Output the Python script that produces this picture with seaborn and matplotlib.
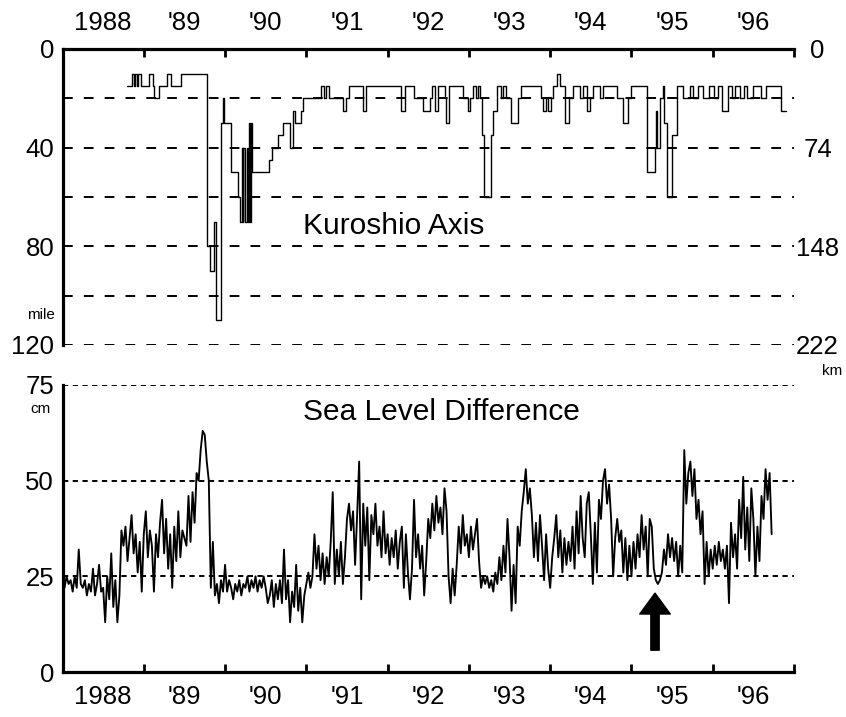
import numpy as np
import pandas as pd
import matplotlib
matplotlib.use("Agg")
import matplotlib.pyplot as plt
import seaborn as sns

# ---- Kuroshio axis offshore distance (nautical miles); value holds from each time on
kuroshio_year = [
    1988.79, 1988.85, 1988.88, 1988.89, 1988.92, 1988.93, 1988.96, 1989.06, 1989.11, 1989.13,
    1989.19, 1989.29, 1989.33, 1989.46, 1989.78, 1989.82, 1989.86, 1989.89, 1989.95, 1989.98,
    1989.99, 1990.07, 1990.16, 1990.19, 1990.205, 1990.215, 1990.225, 1990.24, 1990.27, 1990.28,
    1990.295, 1990.305, 1990.315, 1990.33, 1990.54, 1990.58, 1990.65, 1990.71, 1990.80, 1990.84,
    1990.86, 1990.93, 1990.96, 1991.18, 1991.22, 1991.24, 1991.28, 1991.45, 1991.49, 1991.53,
    1991.70, 1991.74, 1992.17, 1992.21, 1992.33, 1992.44, 1992.52, 1992.54, 1992.58, 1992.62,
    1992.70, 1992.72, 1992.76, 1992.93, 1992.99, 1993.01, 1993.05, 1993.09, 1993.11, 1993.14,
    1993.16, 1993.18, 1993.27, 1993.30, 1993.34, 1993.40, 1993.42, 1993.46, 1993.52, 1993.60,
    1993.64, 1993.89, 1993.91, 1993.95, 1993.97, 1994.01, 1994.04, 1994.09, 1994.12, 1994.18,
    1994.23, 1994.28, 1994.37, 1994.41, 1994.45, 1994.49, 1994.53, 1994.61, 1994.65, 1994.82,
    1994.90, 1994.96, 1995.00, 1995.19, 1995.29, 1995.30, 1995.315, 1995.35, 1995.39, 1995.40,
    1995.44, 1995.50, 1995.56, 1995.64, 1995.72, 1995.76, 1995.82, 1995.88, 1995.95, 1996.01,
    1996.07, 1996.11, 1996.19, 1996.24, 1996.28, 1996.34, 1996.38, 1996.42, 1996.50, 1996.59,
    1996.65, 1996.84, 1996.90,
]
kuroshio_mile = [
    15, 10, 15, 10, 15, 10, 15, 10, 15, 20,
    15, 10, 15, 10, 80, 90, 70, 110, 30, 20,
    30, 50, 60, 70, 40, 70, 40, 70, 40, 70,
    30, 70, 30, 50, 45, 40, 35, 30, 40, 25,
    30, 25, 20, 15, 20, 15, 20, 25, 20, 15,
    25, 15, 25, 15, 20, 25, 20, 15, 25, 15,
    20, 30, 15, 20, 25, 20, 15, 20, 15, 20,
    35, 60, 35, 25, 15, 20, 15, 20, 30, 20,
    15, 20, 25, 20, 25, 20, 15, 10, 15, 30,
    20, 15, 20, 15, 25, 20, 15, 20, 15, 20,
    30, 20, 15, 50, 40, 25, 40, 20, 15, 30,
    60, 35, 15, 20, 15, 20, 15, 20, 15, 20,
    15, 25, 15, 20, 15, 20, 15, 20, 15, 20,
    15, 25, 25,
]

# ---- Sea level difference (cm), one value every 1/40 year from 1988.0
sea_level_start = 1988.0
sea_level_step = 1.0 / 40.0
sea_level_cm = [
    24, 22, 25, 23, 24, 21, 25, 22, 32, 23,   # 1988.00
    22, 24, 20, 23, 21, 27, 20, 23, 28, 21,   # 1988.25
    22, 13, 25, 19, 31, 17, 24, 13, 20, 37,   # 1988.50
    33, 38, 29, 35, 41, 31, 36, 26, 34, 21,   # 1988.75
    36, 42, 30, 37, 33, 21, 36, 30, 39, 45,   # 1989.00
    31, 40, 27, 36, 22, 38, 29, 42, 30, 37,   # 1989.25
    35, 33, 46, 34, 47, 39, 52, 50, 58, 63,   # 1989.50
    62, 55, 50, 22, 34, 20, 23, 18, 24, 21,   # 1989.75
    28, 21, 24, 22, 19, 23, 21, 24, 20, 23,   # 1990.00
    22, 25, 21, 24, 22, 25, 21, 24, 22, 25,   # 1990.25
    22, 18, 20, 24, 17, 23, 19, 24, 18, 32,   # 1990.50
    19, 24, 13, 21, 17, 28, 16, 22, 13, 20,   # 1990.75
    23, 26, 22, 25, 36, 27, 33, 24, 31, 23,   # 1991.00
    30, 25, 34, 47, 23, 32, 25, 34, 23, 30,   # 1991.25
    40, 44, 37, 42, 28, 41, 55, 19, 44, 33,   # 1991.50
    43, 24, 41, 36, 44, 33, 38, 30, 42, 31,   # 1991.75
    36, 28, 35, 30, 37, 27, 34, 38, 22, 36,   # 1992.00
    26, 19, 27, 45, 30, 36, 27, 33, 20, 29,   # 1992.25
    40, 35, 44, 37, 46, 39, 43, 36, 48, 42,   # 1992.50
    25, 18, 27, 20, 28, 38, 31, 41, 33, 36,   # 1992.75
    30, 38, 32, 36, 40, 29, 22, 25, 23, 25,   # 1993.00
    22, 24, 21, 26, 23, 30, 24, 33, 26, 40,   # 1993.25
    30, 16, 28, 18, 38, 33, 42, 47, 53, 44,   # 1993.50
    48, 41, 30, 39, 29, 41, 33, 24, 36, 27,   # 1993.75
    22, 30, 35, 41, 30, 37, 26, 35, 28, 34,   # 1994.00
    29, 38, 27, 42, 31, 46, 35, 30, 44, 47,   # 1994.25
    36, 23, 39, 26, 45, 40, 50, 53, 44, 49,   # 1994.50
    40, 25, 35, 40, 34, 37, 26, 35, 24, 33,   # 1994.75
    25, 34, 27, 36, 30, 41, 32, 38, 25, 40,   # 1995.00
    38, 27, 24, 23, 24, 26, 32, 28, 36, 30,   # 1995.25
    35, 29, 34, 25, 33, 26, 58, 44, 52, 55,   # 1995.50
    46, 53, 40, 45, 36, 42, 23, 34, 25, 32,   # 1995.75
    27, 33, 28, 34, 29, 32, 27, 33, 18, 39,   # 1996.00
    30, 36, 27, 45, 35, 51, 32, 43, 29, 48,   # 1996.25
    40, 25, 38, 29, 46, 40, 53, 45, 52, 36,   # 1996.50
]

year_labels = ["1988", "'89", "'90", "'91", "'92", "'93", "'94", "'95", "'96"]
mile_ticks = [0, 40, 80, 120]
mile_grid = [20, 40, 60, 80, 100, 120]
km_labels = ["0", "74", "148", "222"]
cm_ticks = [0, 25, 50, 75]
cm_grid = [25, 50, 75]

# small-meander minimum marked by the arrow
arrow_year = 1995.29
arrow_tip_cm = 20.6
arrow_tail_cm = 5.7

# ---------------------------------------------------------------------------
sns.set_style("white")
plt.rcParams["font.family"] = ["Liberation Sans", "DejaVu Sans"]
plt.rcParams["lines.scale_dashes"] = False
for key in ("text.color", "axes.labelcolor", "xtick.color", "ytick.color"):
    plt.rcParams[key] = "black"

W, H = 846, 717
fig = plt.figure(figsize=(W / 100, H / 100), dpi=100)

x_left, x_right = 62.5, 794
ax_top = fig.add_axes([x_left / W, 1 - 345 / H, (x_right - x_left) / W, (345 - 49) / H])
ax_bot = fig.add_axes([x_left / W, 1 - 672 / H, (x_right - x_left) / W, (672 - 385) / H])

x_min, x_max = 1988.0, 1997.0
year_edges = np.arange(1989, 1998)
year_mids = np.arange(1988.5, 1997.0, 1.0)

# ---- upper panel: Kuroshio axis
kuro = pd.DataFrame({"year": kuroshio_year, "mile": kuroshio_mile})
sns.lineplot(data=kuro, x="year", y="mile", ax=ax_top, color="black",
             linewidth=1.0, drawstyle="steps-post", estimator=None, sort=False)
for g in mile_grid:
    ax_top.axhline(g, color="black", linewidth=1.4, dashes=(7, 8), zorder=1)

ax_top.set_xlim(x_min, x_max)
ax_top.set_ylim(120, 0)
ax_top.set_xlabel("")
ax_top.set_ylabel("")
for side in ("bottom", "right"):
    ax_top.spines[side].set_visible(False)
for side in ("top", "left"):
    ax_top.spines[side].set_linewidth(2.3)
    ax_top.spines[side].set_color("black")

ax_top.xaxis.set_ticks_position("top")
ax_top.set_xticks(year_edges)
ax_top.set_xticklabels([])
ax_top.set_xticks(year_mids, minor=True)
ax_top.set_xticklabels(year_labels, minor=True)
ax_top.tick_params(axis="x", which="major", direction="in", length=6, width=2, top=True, bottom=False)
ax_top.tick_params(axis="x", which="minor", length=0, pad=10, labelsize=18.5, top=True, bottom=False,
                   labeltop=True, labelbottom=False)
ax_top.set_yticks(mile_ticks)
ax_top.set_yticklabels([str(v) for v in mile_ticks])
ax_top.tick_params(axis="y", length=0, pad=6, labelsize=18.5)

ax_km = ax_top.twinx()
ax_km.set_ylim(120, 0)
ax_km.set_yticks(mile_ticks)
ax_km.set_yticklabels(km_labels, ha="center")
ax_km.tick_params(axis="y", length=0, pad=17, labelsize=18.5)
for s in ax_km.spines.values():
    s.set_visible(False)
ax_km.grid(False)

ax_top.text(0.453, 0.402, "Kuroshio Axis", transform=ax_top.transAxes,
            ha="center", va="center", fontsize=21.5)
fig.text(41 / W, 1 - 315 / H, "mile", ha="center", va="center", fontsize=11)
fig.text(832 / W, 1 - 371 / H, "km", ha="center", va="center", fontsize=11)

# ---- lower panel: sea level difference
sl_year = sea_level_start + sea_level_step * np.arange(len(sea_level_cm))
sl = pd.DataFrame({"year": sl_year, "cm": sea_level_cm})
sns.lineplot(data=sl, x="year", y="cm", ax=ax_bot, color="black",
             linewidth=1.35, estimator=None, sort=False)
for g in cm_grid:
    ax_bot.axhline(g, color="black", linewidth=1.4, dashes=(3.8, 3.2), zorder=1)

ax_bot.set_xlim(x_min, x_max)
ax_bot.set_ylim(0, 75)
ax_bot.set_xlabel("")
ax_bot.set_ylabel("")
for side in ("top", "right"):
    ax_bot.spines[side].set_visible(False)
for side in ("bottom", "left"):
    ax_bot.spines[side].set_linewidth(2.3)
    ax_bot.spines[side].set_color("black")

ax_bot.set_xticks(year_edges)
ax_bot.set_xticklabels([])
ax_bot.set_xticks(year_mids, minor=True)
ax_bot.set_xticklabels(year_labels, minor=True)
ax_bot.tick_params(axis="x", which="major", direction="in", length=6, width=2, bottom=True)
ax_bot.tick_params(axis="x", which="minor", length=0, pad=9, labelsize=18.5, bottom=True)
ax_bot.set_yticks(cm_ticks)
ax_bot.set_yticklabels([str(v) for v in cm_ticks])
ax_bot.tick_params(axis="y", length=0, pad=6, labelsize=18.5)

ax_bot.text(0.518, 0.906, "Sea Level Difference", transform=ax_bot.transAxes,
            ha="center", va="center", fontsize=21.5)
fig.text(40 / W, 1 - 409 / H, "cm", ha="center", va="center", fontsize=11)

ax_bot.annotate("", xy=(arrow_year, arrow_tip_cm), xytext=(arrow_year, arrow_tail_cm),
                arrowprops=dict(facecolor="black", edgecolor="black", width=6,
                                headwidth=22, headlength=15, shrink=0))

fig.savefig("out.png", dpi=100, facecolor="white")
